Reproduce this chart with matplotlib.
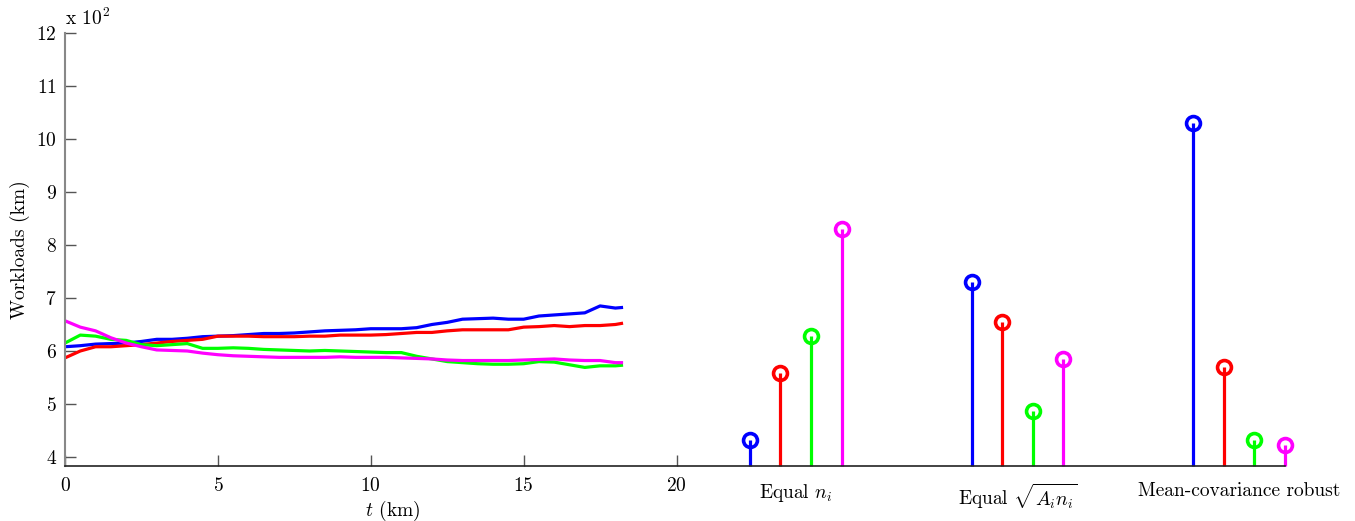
import numpy as np
import matplotlib
matplotlib.use("Agg")
import matplotlib.pyplot as plt

plt.rcParams['font.family'] = 'serif'
plt.rcParams['font.serif'] = ['cmr10']
plt.rcParams['mathtext.fontset'] = 'cm'
plt.rcParams['axes.formatter.use_mathtext'] = True
plt.rcParams['axes.unicode_minus'] = False

FS = 14

# Workloads along the route (x 10^2 km)
t = [0, 0.5, 1, 1.5, 2, 2.5, 3, 3.5, 4, 4.5, 5, 5.5, 6, 6.5, 7, 7.5, 8, 8.5, 9, 9.5,
     10, 10.5, 11, 11.5, 12, 12.5, 13, 13.5, 14, 14.5, 15, 15.5, 16, 16.5, 17, 17.5,
     18, 18.2]
blue = [6.08, 6.10, 6.13, 6.14, 6.15, 6.18, 6.22, 6.22, 6.24, 6.27, 6.28, 6.29, 6.31,
        6.33, 6.33, 6.34, 6.36, 6.38, 6.39, 6.40, 6.42, 6.42, 6.42, 6.44, 6.50, 6.54,
        6.60, 6.61, 6.62, 6.60, 6.60, 6.66, 6.68, 6.70, 6.72, 6.85, 6.81, 6.82]
red = [5.87, 6.00, 6.08, 6.08, 6.10, 6.12, 6.15, 6.18, 6.20, 6.22, 6.28, 6.28, 6.28,
       6.27, 6.27, 6.27, 6.28, 6.28, 6.30, 6.30, 6.30, 6.31, 6.33, 6.35, 6.35, 6.38,
       6.40, 6.40, 6.40, 6.40, 6.45, 6.46, 6.48, 6.46, 6.48, 6.48, 6.50, 6.52]
green = [6.15, 6.30, 6.28, 6.22, 6.20, 6.12, 6.10, 6.12, 6.14, 6.05, 6.05, 6.06, 6.05,
         6.03, 6.02, 6.01, 6.00, 6.01, 6.00, 5.99, 5.98, 5.97, 5.97, 5.90, 5.85, 5.80,
         5.78, 5.76, 5.75, 5.75, 5.76, 5.80, 5.79, 5.74, 5.69, 5.72, 5.72, 5.73]
magenta = [6.57, 6.45, 6.38, 6.25, 6.15, 6.08, 6.02, 6.01, 6.00, 5.96, 5.93, 5.91, 5.90,
           5.89, 5.88, 5.88, 5.88, 5.88, 5.89, 5.88, 5.88, 5.88, 5.87, 5.86, 5.85, 5.83,
           5.82, 5.82, 5.82, 5.82, 5.83, 5.84, 5.85, 5.83, 5.82, 5.82, 5.78, 5.78]

# Final workloads per allocation strategy (blue, red, green, magenta)
strategies = ['Equal $n_i$', 'Equal $\\sqrt{A_i n_i}$', 'Mean-covariance robust']
final_blue = [4.32, 7.31, 10.31]
final_red = [5.58, 6.54, 5.69]
final_green = [6.29, 4.86, 4.33]
final_magenta = [8.31, 5.85, 4.23]

colors = ['#0000ff', '#ff0000', '#00ff00', '#ff00ff']
series = [blue, red, green, magenta]
finals = [final_blue, final_red, final_green, final_magenta]

fig = plt.figure(figsize=(13.55, 5.21), dpi=100)
ax = fig.add_axes([65 / 1355, 1 - 466 / 521, 1220 / 1355, 433 / 521])

ymin = 3.83
ax.set_xlim(0, 39.9)
ax.set_ylim(ymin, 12)

for y, c in zip(series, colors):
    ax.plot(t, y, color=c, lw=2.3, solid_joinstyle='round')

group_start = [22.4, 29.65, 36.9]
for k, (vals, c) in enumerate(zip(finals, colors)):
    xs = np.array(group_start) + k
    ml, sl, bl = ax.stem(xs, vals, bottom=ymin)
    plt.setp(sl, color=c, lw=2.3)
    plt.setp(ml, color=c, marker='o', markersize=10, markerfacecolor='none',
             markeredgewidth=2.6)
    bl.set_visible(False)
    for s in [sl, ml]:
        s.set_clip_on(False)

for g, name in zip(group_start, strategies):
    ax.text(g + 1.5, -0.036, name, transform=ax.get_xaxis_transform(),
            ha='center', va='top', fontsize=FS)

ax.set_xticks([0, 5, 10, 15, 20])
ax.set_yticks(range(4, 13))
ax.tick_params(direction='in', length=8, width=1, colors='#555555',
               labelcolor='black', labelsize=FS, pad=8)
ax.tick_params(axis='y', pad=6)

for s in ['top', 'right']:
    ax.spines[s].set_visible(False)
ax.spines['left'].set_color('#888888')
ax.spines['left'].set_linewidth(1.5)
ax.spines['bottom'].set_color('#222222')
ax.spines['bottom'].set_linewidth(1.2)

ax.set_ylabel('Workloads (km)', fontsize=FS, labelpad=4)
ax.text(10.7, -0.076, '$t$ (km)', transform=ax.get_xaxis_transform(),
        ha='center', va='top', fontsize=FS)
ax.text(0.0, 1.01, 'x 10$^{2}$', transform=ax.transAxes, ha='left', va='bottom',
        fontsize=FS)

fig.savefig('out.png', dpi=100)
